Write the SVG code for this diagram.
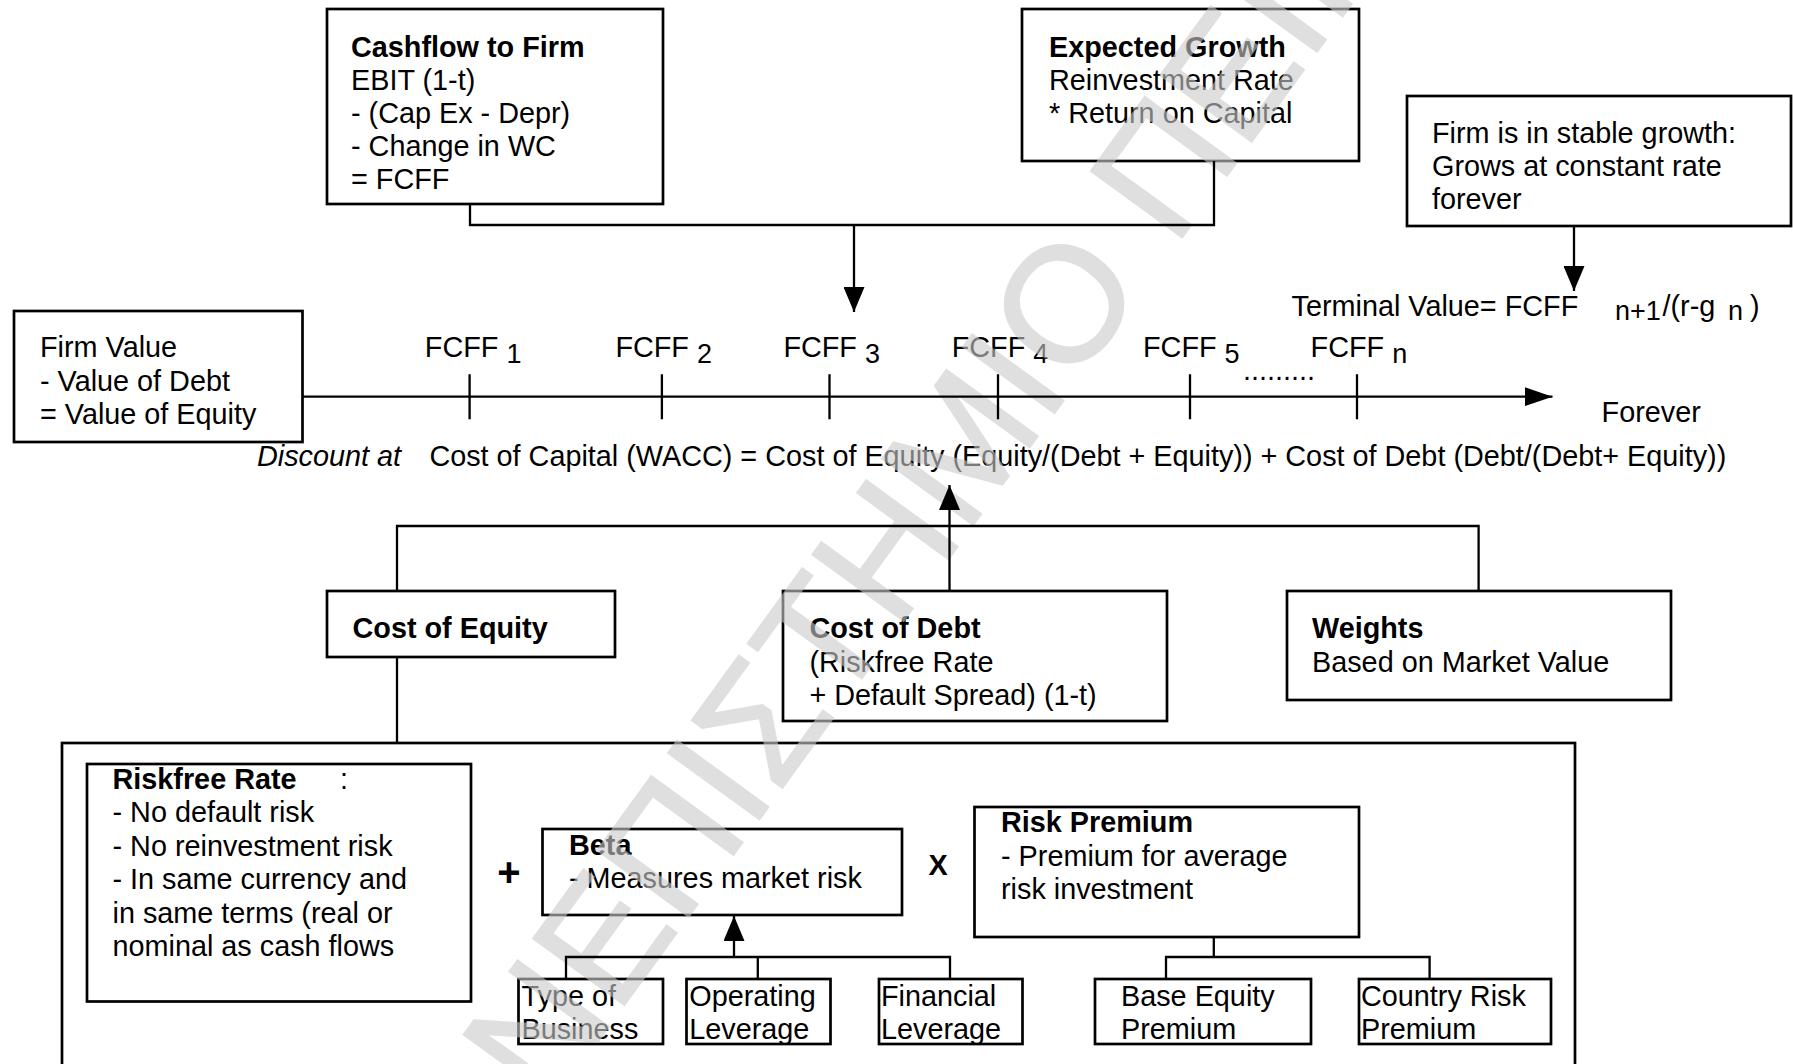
<svg xmlns="http://www.w3.org/2000/svg" width="1793" height="1064" viewBox="0 0 1793 1064">
<style>
text{font-family:"Liberation Sans",Arial,Helvetica,sans-serif;font-size:28.8px;fill:#000}
.b{font-weight:bold}
.i{font-style:italic}
.sub{font-size:27px}
.box{fill:none;stroke:#000;stroke-width:2.7}
.ln{fill:none;stroke:#000;stroke-width:2.3}
.wm{font-family:"Liberation Sans","DejaVu Sans",sans-serif;font-size:164px;fill:#cbcbcb;stroke:#cbcbcb;stroke-width:2;opacity:0.6}
</style>
<defs>
<marker id="arr" viewBox="0 0 25 21" markerWidth="25" markerHeight="21" refX="25" refY="10.5" orient="auto" markerUnits="userSpaceOnUse"><path d="M0,0 L25,10.5 L0,21 Z" fill="#000"/></marker>
<marker id="arrT" viewBox="0 0 28 19" markerWidth="28" markerHeight="19" refX="28" refY="9.5" orient="auto" markerUnits="userSpaceOnUse"><path d="M0,0 L28,9.5 L0,19 Z" fill="#000"/></marker>
</defs>
<rect x="0" y="0" width="1793" height="1064" fill="#fff"/>

<g id="cashflow">
<rect class="box" x="327" y="9" width="336" height="195"/>
<text x="351" y="57" class="b">Cashflow to Firm</text>
<text x="351" y="90">EBIT (1-t)</text>
<text x="351" y="123">- (Cap Ex - Depr)</text>
<text x="351" y="156">- Change in WC</text>
<text x="351" y="189">= FCFF</text>
</g>

<g id="expected-growth">
<rect class="box" x="1022" y="9" width="337" height="152"/>
<text x="1049" y="57" class="b">Expected Growth</text>
<text x="1049" y="90">Reinvestment Rate</text>
<text x="1049" y="123">* Return on Capital</text>
</g>

<g id="stable-growth">
<rect class="box" x="1407" y="96" width="384" height="130"/>
<text x="1432" y="143">Firm is in stable growth:</text>
<text x="1432" y="176">Grows at constant rate</text>
<text x="1432" y="209">forever</text>
</g>

<g id="terminal-value">
<text x="1291.5" y="316">Terminal Value= FCFF</text>
<text x="1615" y="320" class="sub">n+1</text>
<text x="1662.5" y="316">/(r-g</text>
<text x="1728" y="320" class="sub">n</text>
<text x="1750" y="316">)</text>
</g>

<g id="firm-value">
<rect class="box" x="14" y="311" width="288.5" height="131"/>
<text x="40" y="357">Firm Value</text>
<text x="40" y="391">- Value of Debt</text>
<text x="40" y="424">= Value of Equity</text>
</g>

<g id="timeline-labels">
<text x="424.8" y="357">FCFF <tspan class="sub" dy="6">1</tspan></text>
<text x="615.4" y="357">FCFF <tspan class="sub" dy="6">2</tspan></text>
<text x="783.4" y="357">FCFF <tspan class="sub" dy="6">3</tspan></text>
<text x="951.7" y="357">FCFF <tspan class="sub" dy="6">4</tspan></text>
<text x="1143" y="357">FCFF <tspan class="sub" dy="6">5</tspan></text>
<text x="1310.6" y="357">FCFF <tspan class="sub" dy="6">n</tspan></text>
<text x="1243" y="380">.........</text>
<text x="1601.6" y="422">Forever</text>
</g>

<g id="discount">
<text x="257" y="466" class="i">Discount at</text>
<text x="429.4" y="466">Cost of Capital (WACC) = Cost of Equity (Equity/(Debt + Equity)) + Cost of Debt (Debt/(Debt+ Equity))</text>
</g>

<g id="cost-of-equity">
<rect class="box" x="327" y="591" width="288" height="66"/>
<text x="352.5" y="638" class="b">Cost of Equity</text>
</g>

<g id="cost-of-debt">
<rect class="box" x="783" y="591" width="384" height="130"/>
<text x="809.4" y="638" class="b">Cost of Debt</text>
<text x="809.4" y="671.5">(Riskfree Rate</text>
<text x="809.4" y="705">+ Default Spread) (1-t)</text>
</g>

<g id="weights">
<rect class="box" x="1287" y="591" width="384" height="109"/>
<text x="1312" y="638" class="b">Weights</text>
<text x="1312" y="671.5">Based on Market Value</text>
</g>

<g id="cost-of-equity-detail">
<rect class="box" x="62" y="743" width="1513" height="340"/>
</g>

<g id="riskfree-rate">
<rect class="box" x="87" y="764" width="384" height="237.5"/>
<text x="112.5" y="788.5" class="b">Riskfree Rate</text>
<text x="340" y="788.5">:</text>
<text x="112.5" y="822">- No default risk</text>
<text x="112.5" y="855.5">- No reinvestment risk</text>
<text x="112.5" y="889">- In same currency and</text>
<text x="112.5" y="922.5">in same terms (real or</text>
<text x="112.5" y="956">nominal as cash flows</text>
</g>

<g id="plus">
<text x="509" y="886" class="b" text-anchor="middle" style="font-size:40px">+</text>
</g>

<g id="beta">
<rect class="box" x="542.5" y="829" width="359.5" height="86"/>
<text x="569" y="855" class="b">Beta</text>
<text x="569" y="887.5">- Measures market risk</text>
</g>

<g id="times">
<text x="938" y="875" class="b" text-anchor="middle">X</text>
</g>

<g id="risk-premium">
<rect class="box" x="974.5" y="807" width="384.5" height="130"/>
<text x="1001" y="832" class="b">Risk Premium</text>
<text x="1001" y="865.5">- Premium for average</text>
<text x="1001" y="899">risk investment</text>
</g>

<g id="type-of-business">
<rect class="box" x="518.5" y="979" width="144.5" height="65"/>
<text x="521.5" y="1005.5">Type of</text>
<text x="521.5" y="1038.5">Business</text>
</g>

<g id="operating-leverage">
<rect class="box" x="686.5" y="979" width="144" height="65"/>
<text x="689.3" y="1005.5">Operating</text>
<text x="689.3" y="1038.5">Leverage</text>
</g>

<g id="financial-leverage">
<rect class="box" x="879" y="979" width="143.5" height="65"/>
<text x="881" y="1005.5">Financial</text>
<text x="881" y="1038.5">Leverage</text>
</g>

<g id="base-equity-premium">
<rect class="box" x="1095" y="979" width="216" height="65"/>
<text x="1121" y="1005.5">Base Equity</text>
<text x="1121" y="1038.5">Premium</text>
</g>

<g id="country-risk-premium">
<rect class="box" x="1359" y="979" width="192" height="65"/>
<text x="1361" y="1005.5">Country Risk</text>
<text x="1361" y="1038.5">Premium</text>
</g>

<g id="watermark">
<text class="wm" transform="translate(413,1296) rotate(-54)">ΠΑΝΕΠΙΣΤΗΜΙΟ ΠΕΙΡΑΙΩΣ</text>
</g>

<g id="connectors">
<path class="ln" d="M470,204 V225 H1214 V161"/>
<line class="ln" x1="854" y1="225" x2="854" y2="312" marker-end="url(#arr)"/>
<line class="ln" x1="1574" y1="226" x2="1574" y2="291" marker-end="url(#arr)"/>
<line class="ln" x1="302.5" y1="396.7" x2="1552.5" y2="396.7" marker-end="url(#arrT)"/>
<path class="ln" d="M469.6,374.3 V419.3 M661.9,374.3 V419.3 M829.5,374.3 V419.3 M998,374.3 V419.3 M1190,374.3 V419.3 M1357,374.3 V419.3"/>
<path class="ln" d="M397,591 V526 H1478.6 V591"/>
<line class="ln" x1="949.5" y1="591" x2="949.5" y2="485" marker-end="url(#arr)"/>
<line class="ln" x1="397" y1="657" x2="397" y2="743"/>
<path class="ln" d="M566,979 V957 H950 V979 M757.8,957 V979"/>
<line class="ln" x1="734" y1="957" x2="734" y2="916" marker-end="url(#arr)"/>
<path class="ln" d="M1213.8,937 V957 M1166,979 V957 H1429.6 V979"/>
</g>
</svg>
